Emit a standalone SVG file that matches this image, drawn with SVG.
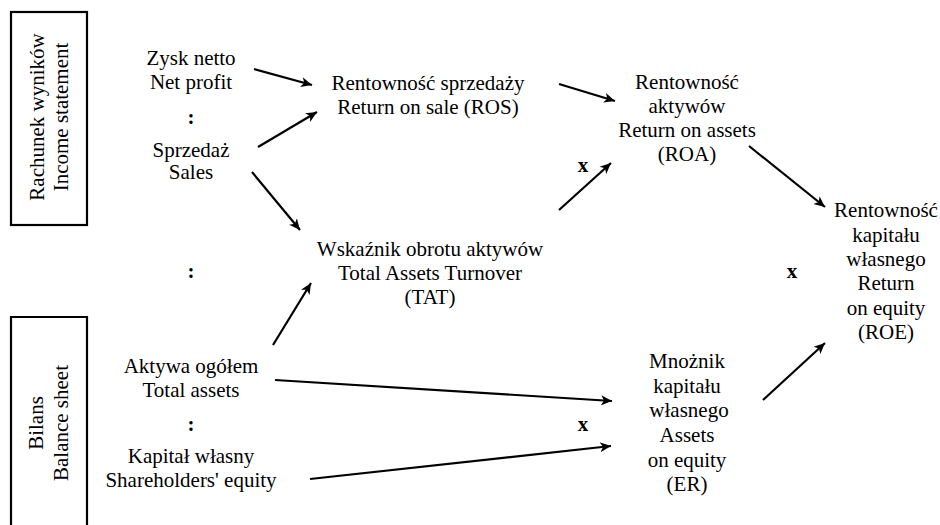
<svg xmlns="http://www.w3.org/2000/svg" width="940" height="525" viewBox="0 0 940 525" font-family="Liberation Serif, Times New Roman, serif" font-size="21">
<style>
text{fill:#000;text-anchor:middle;font-weight:400}
text.b{font-weight:700}
.box{fill:none;stroke:#000;stroke-width:2.2}
.c line{stroke:#000;stroke-width:2.2;marker-end:url(#ah)}
</style>
<defs>
<marker id="ah" markerUnits="userSpaceOnUse" markerWidth="12" markerHeight="12" viewBox="0 0 12 12" refX="11" refY="6" orient="auto">
<path d="M0,1 L11,6 L0,11 L3,6 z" fill="#000"/>
</marker>
</defs>
<rect width="940" height="525" fill="#fff"/>
<g id="income-box">
<rect class="box" x="11" y="12" width="76" height="213"/>
<text transform="translate(43.5,117) rotate(-90)">Rachunek wyników</text>
<text transform="translate(68,117) rotate(-90)">Income statement</text>
</g>
<g id="balance-box">
<path class="box" d="M11,530 V317 H87 V530"/>
<text transform="translate(43,423) rotate(-90)">Bilans</text>
<text transform="translate(68,423) rotate(-90)">Balance sheet</text>
</g>
<g id="net-profit">
<text x="191" y="65">Zysk netto</text>
<text x="191" y="89">Net profit</text>
</g>
<text class="b" x="191" y="124">:</text>
<g id="sales">
<text x="191" y="157">Sprzedaż</text>
<text x="191" y="179">Sales</text>
</g>
<text class="b" x="191" y="278">:</text>
<g id="total-assets">
<text x="191" y="373">Aktywa ogółem</text>
<text x="191" y="397">Total assets</text>
</g>
<text class="b" x="191" y="431">:</text>
<g id="equity">
<text x="191" y="463">Kapitał własny</text>
<text x="191" y="487">Shareholders' equity</text>
</g>
<g id="ros">
<text x="428" y="90">Rentowność sprzedaży</text>
<text x="428" y="114">Return on sale (ROS)</text>
</g>
<g id="tat">
<text x="430" y="256">Wskaźnik obrotu aktywów</text>
<text x="430" y="280">Total Assets Turnover</text>
<text x="430" y="304">(TAT)</text>
</g>
<g id="roa">
<text x="687" y="89">Rentowność</text>
<text x="687" y="113">aktywów</text>
<text x="687" y="137">Return on assets</text>
<text x="687" y="161">(ROA)</text>
</g>
<g id="roe">
<text x="886" y="217">Rentowność</text>
<text x="886" y="242">kapitału</text>
<text x="886" y="266">własnego</text>
<text x="886" y="290">Return</text>
<text x="886" y="315">on equity</text>
<text x="886" y="339">(ROE)</text>
</g>
<g id="er">
<text x="687" y="368">Mnożnik</text>
<text x="687" y="393">kapitału</text>
<text x="689" y="417">własnego</text>
<text x="687" y="442">Assets</text>
<text x="687" y="467">on equity</text>
<text x="687" y="491">(ER)</text>
</g>
<text class="b" x="583" y="172">x</text>
<text class="b" x="792" y="278">x</text>
<text class="b" x="583" y="431">x</text>
<g id="connectors" class="c">
<line x1="254" y1="69" x2="312" y2="85"/>
<line x1="258" y1="147" x2="317" y2="112"/>
<line x1="252" y1="172" x2="300" y2="230"/>
<line x1="273" y1="345" x2="311" y2="283"/>
<line x1="559" y1="84" x2="615" y2="101"/>
<line x1="559" y1="210" x2="611" y2="163"/>
<line x1="749" y1="146" x2="825" y2="207"/>
<line x1="275" y1="380" x2="612" y2="401"/>
<line x1="310" y1="479" x2="611" y2="446"/>
<line x1="763" y1="400" x2="825" y2="343"/>
</g>
</svg>
